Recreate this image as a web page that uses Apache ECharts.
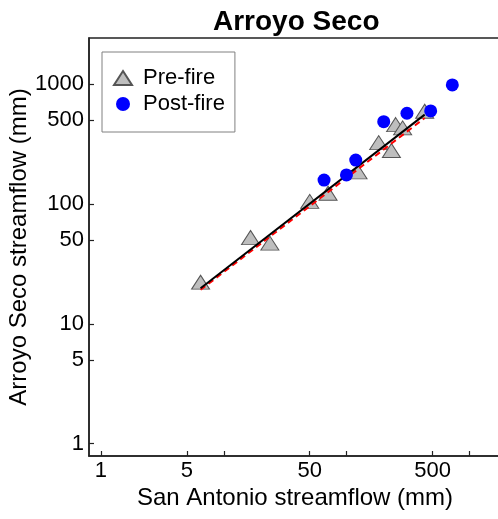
<!DOCTYPE html>
<html>
<head>
<meta charset="utf-8">
<script src="https://cdn.jsdelivr.net/npm/echarts@6/dist/echarts.min.js"></script>
<style>
  html, body { margin: 0; padding: 0; background: #fff; }
  #chart { width: 498px; height: 519px; }
</style>
</head>
<body>
<div id="chart"></div>
<script>
// Annual streamflow (mm): San Antonio (x) vs Arroyo Seco (y)
const preFireX  = [6.47, 16.5, 23.7, 50, 70.5, 123.6, 182, 231, 250, 285, 431];
const preFireY  = [21.4, 50.4, 45.3, 101, 118, 178, 312, 268, 441, 414, 570];
const postFireX = [65.4, 99.5, 118.4, 200, 309, 482, 723];
const postFireY = [158, 174.5, 232, 485, 570, 596, 981];

// Fitted log-log regression lines (end points)
const fitX      = [6.47, 431];
const fitBlackY = [19.8, 555];
const fitRedY   = [19.2, 520];

// Axis tick positions and labels
const xTicks  = [1, 5, 10, 50, 100, 500, 1000];
const xLabels = [1, 5, 50, 500];
const yTicks  = [1, 5, 10, 50, 100, 500, 1000];
const yLabels = [1, 5, 10, 50, 100, 500, 1000];

const pairs = (xs, ys) => xs.map((x, i) => [x, ys[i]]);
const plain = v => String(Math.round(v));

const FONT = '"Liberation Sans", Arial, sans-serif';
const chart = echarts.init(document.getElementById('chart'), null, { renderer: 'canvas' });

chart.setOption({
  animation: false,
  backgroundColor: '#ffffff',
  textStyle: { fontFamily: FONT },
  title: {
    text: 'Arroyo Seco',
    left: 208, top: 3,
    textStyle: { fontFamily: FONT, fontSize: 28, fontWeight: 'bold', color: '#000' }
  },
  legend: {
    orient: 'vertical',
    left: 102, top: 52,
    padding: [15, 10, 17, 11],
    itemGap: 4,
    itemWidth: 18, itemHeight: 14,
    borderColor: '#808080', borderWidth: 1,
    backgroundColor: '#fff',
    textStyle: { fontFamily: FONT, fontSize: 22, color: '#000', lineHeight: 22, padding: [0, 0, 0, 6] },
    data: [
      { name: 'Pre-fire', icon: 'triangle' },
      { name: 'Post-fire', icon: 'circle' }
    ]
  },
  grid: {
    left: 89, top: 38, right: -3, bottom: 63,
    outerBoundsMode: 'none',
    containLabel: false,
    show: true, borderColor: '#222', borderWidth: 1.5
  },
  xAxis: {
    type: 'log', min: 0.80, max: 1800,
    name: 'San Antonio streamflow (mm)',
    nameLocation: 'middle', nameGap: 30, nameMoveOverlap: false,
    nameTextStyle: { fontFamily: FONT, fontSize: 24, color: '#000' },
    axisLine: { lineStyle: { color: '#222', width: 1.5 } },
    axisTick: { inside: true, length: 5, lineStyle: { color: '#222', width: 1.2 }, customValues: xTicks },
    axisLabel: { fontFamily: FONT, fontSize: 22, color: '#000', margin: 4, customValues: xLabels, formatter: plain },
    splitLine: { show: false }
  },
  yAxis: {
    type: 'log', min: 0.79, max: 2417,
    name: 'Arroyo Seco streamflow (mm)',
    nameLocation: 'middle', nameGap: 58, nameMoveOverlap: false,
    nameTextStyle: { fontFamily: FONT, fontSize: 24, color: '#000' },
    axisLine: { lineStyle: { color: '#222', width: 1.5 } },
    axisTick: { inside: true, length: 5, lineStyle: { color: '#222', width: 1.2 }, customValues: yTicks },
    axisLabel: { fontFamily: FONT, fontSize: 22, color: '#000', margin: 5, customValues: yLabels, formatter: plain },
    splitLine: { show: false }
  },
  series: [
    {
      name: 'Pre-fire', type: 'scatter', z: 2,
      symbol: 'triangle', symbolSize: [18, 14], symbolOffset: [0, -2],
      itemStyle: { color: '#bebebe', borderColor: '#555', borderWidth: 1, opacity: 1 },
      data: pairs(preFireX, preFireY)
    },
    {
      name: 'Pre-fire fit (dashed)', type: 'line', z: 3, symbol: 'none',
      lineStyle: { color: '#ff0000', width: 2, type: [6, 4] },
      data: pairs(fitX, fitRedY)
    },
    {
      name: 'fit', type: 'line', z: 4, symbol: 'none',
      lineStyle: { color: '#000', width: 2 },
      data: pairs(fitX, fitBlackY)
    },
    {
      name: 'Post-fire', type: 'scatter', z: 5,
      symbol: 'circle', symbolSize: 13,
      itemStyle: { color: '#0000ff', opacity: 1 },
      data: pairs(postFireX, postFireY)
    }
  ]
});
</script>
</body>
</html>
